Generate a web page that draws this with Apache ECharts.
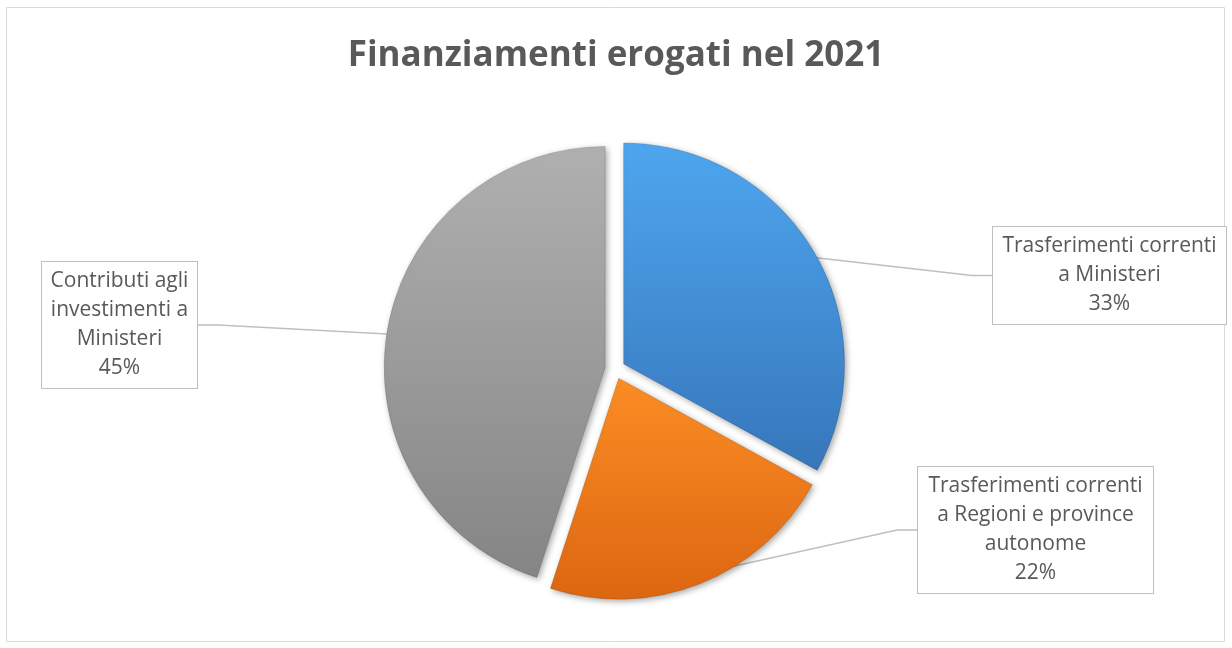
<!DOCTYPE html>
<html>
<head>
<meta charset="utf-8">
<script src="https://cdn.jsdelivr.net/npm/echarts@6/dist/echarts.min.js"></script>
<style>
  html, body { margin: 0; padding: 0; background: #fff; }
  #chart { width: 1232px; height: 648px; }
</style>
</head>
<body>
<div id="chart"></div>
<script>
// data
const categories = [
  'Trasferimenti correnti\na Ministeri',
  'Trasferimenti correnti\na Regioni e province\nautonome',
  'Contributi agli\ninvestimenti a\nMinisteri'
];
const values = [33, 22, 45];

// slice colours: top and bottom of the gradient
const topColors = ['#4ea6ee', '#fb8d24', '#b0b0b0'];
const bottomColors = ['#3776bb', '#dd6611', '#858585'];

// label boxes (left, top, width)
const labelBoxes = [
  { x: 993, y: 227, w: 233 },
  { x: 918, y: 467, w: 235 },
  { x: 42, y: 262, w: 155 }
];

const chart = echarts.init(document.getElementById('chart'));

const pieCenter = [615, 369];
const pieRadius = 221;

const option = {
  animation: false,
  backgroundColor: '#fff',
  title: {
    text: 'Finanziamenti erogati nel 2021',
    left: 'center',
    top: 34,
    textStyle: {
      fontFamily: 'Open Sans',
      fontWeight: 'bold',
      fontSize: 35,
      color: '#595959'
    }
  },
  graphic: [{
    type: 'rect',
    shape: { x: 6.5, y: 7.5, width: 1218, height: 634 },
    style: { fill: 'none', stroke: '#d9d9d9', lineWidth: 1 },
    silent: true
  }],
  series: [
    // exploded slices
    {
      type: 'pie',
      center: pieCenter,
      radius: pieRadius,
      startAngle: 90,
      clockwise: true,
      selectedMode: 'multiple',
      selectedOffset: 10,
      emphasis: { scale: false },
      label: { show: false },
      labelLine: { show: false },
      itemStyle: {
        borderColor: 'rgba(0,0,0,0.12)',
        borderWidth: 1,
        shadowBlur: 6,
        shadowOffsetX: 2,
        shadowOffsetY: 2,
        shadowColor: 'rgba(0,0,0,0.35)'
      },
      data: categories.map(function (name, i) {
        return {
          name: name,
          value: values[i],
          selected: true,
          itemStyle: {
            color: new echarts.graphic.LinearGradient(0, 0, 0, 1, [
              { offset: 0, color: topColors[i] },
              { offset: 1, color: bottomColors[i] }
            ])
          }
        };
      })
    },
    // same data, invisible, carries the callout labels
    {
      type: 'pie',
      center: pieCenter,
      radius: pieRadius,
      startAngle: 90,
      clockwise: true,
      silent: true,
      avoidLabelOverlap: false,
      itemStyle: { color: 'rgba(0,0,0,0)' },
      label: {
        show: true,
        position: 'outside',
        formatter: '{b}\n{d}%',
        fontFamily: 'Open Sans',
        fontSize: 21,
        lineHeight: 29,
        color: '#595959',
        align: 'center',
        backgroundColor: '#fff',
        borderColor: '#bfbfbf',
        borderWidth: 1,
        padding: [5, 0, 5, 0]
      },
      labelLine: {
        show: true,
        length: 20,
        length2: 20,
        lineStyle: { color: '#bfbfbf', width: 1.5 }
      },
      labelLayout: function (params) {
        const b = labelBoxes[params.dataIndex];
        return {
          x: b.x + b.w / 2,
          y: b.y,
          align: 'center',
          verticalAlign: 'top'
        };
      },
      data: categories.map(function (name, i) {
        return {
          name: name,
          value: values[i],
          label: { width: labelBoxes[i].w }
        };
      })
    }
  ]
};

chart.setOption(option);
</script>
</body>
</html>
